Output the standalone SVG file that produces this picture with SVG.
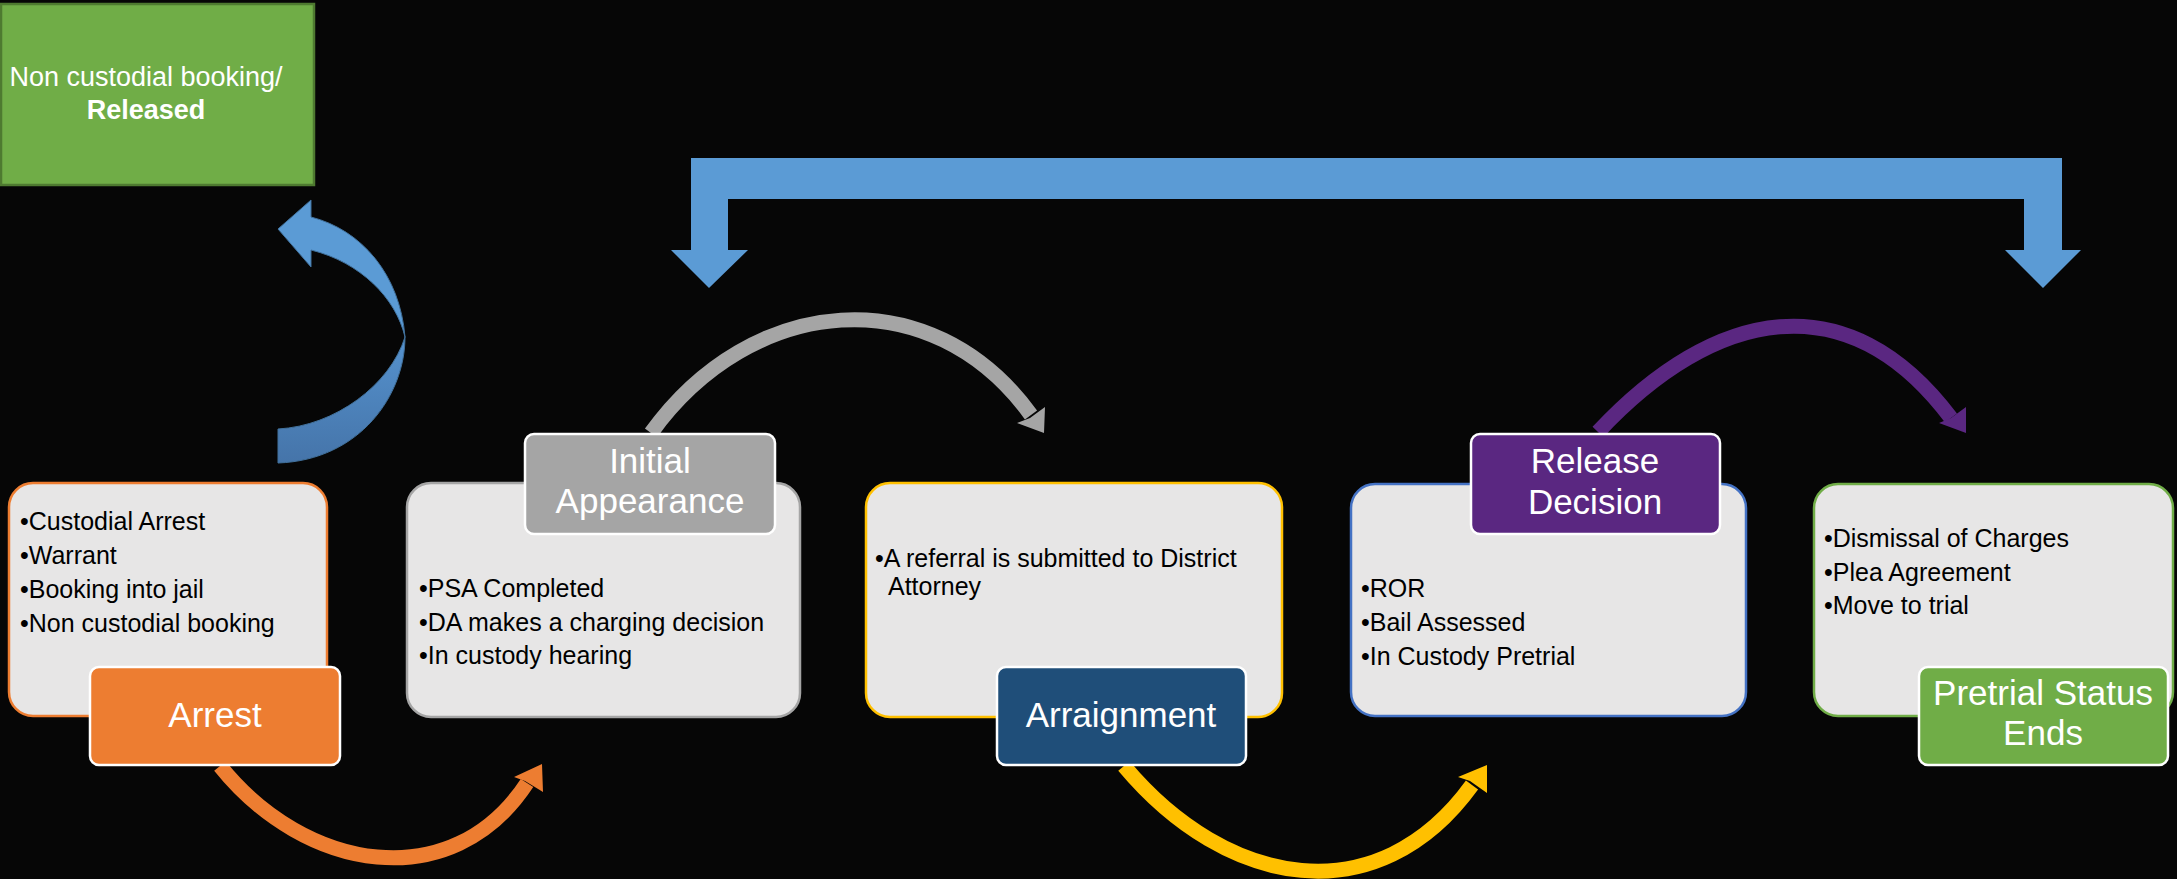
<svg xmlns="http://www.w3.org/2000/svg" width="2177" height="879" viewBox="0 0 2177 879">
<defs>
<style>
.box{fill:#E7E6E6;stroke-width:2.5}
.lbl{stroke:#FFFFFF;stroke-width:2.5}
.body{font-family:"Liberation Sans",Arial,sans-serif;font-size:25px;fill:#000000}
.lt{font-family:"Liberation Sans",Arial,sans-serif;font-size:35px;fill:#FFFFFF;text-anchor:middle}
.gt{font-family:"Liberation Sans",Arial,sans-serif;font-size:27px;fill:#FFFFFF;text-anchor:middle}
.arc{fill:none;stroke-width:15}
</style>
<linearGradient id="blueLow" x1="0" y1="0" x2="0" y2="1">
<stop offset="0" stop-color="#5592CE"/>
<stop offset="1" stop-color="#4574A9"/>
</linearGradient>
</defs>
<rect x="0" y="0" width="2177" height="879" fill="#060606"/>

<g id="released">
<rect x="1" y="4" width="313" height="181" fill="#70AD47" stroke="#4E7A30" stroke-width="2.5"/>
<text class="gt" x="146" y="86">Non custodial booking/</text>
<text class="gt" x="146" y="119" font-weight="bold">Released</text>
</g>

<g id="connectors">
<!-- blue curved arrow to Released -->
<path d="M311,217 C362,230 400,275 405,337 C396,298 360,262 311,250 L311,267 L278,229 L311,200 Z" fill="#5B9BD5" stroke="#41719C" stroke-width="1"/>
<path d="M405,337 C405,395 360,460 278,463 L278,429 C335,426 390,385 405,337 Z" fill="url(#blueLow)" stroke="#41719C" stroke-width="1"/>
<!-- blue bracket arrow -->
<polygon points="671,250 709,288 748,250 728,250 728,199 2024,199 2024,250 2005,250 2043,288 2081,250 2062,250 2062,158 691,158 691,250" fill="#5B9BD5"/>
<!-- orange -->
<path class="arc" d="M220,766 C305,872 452,897 527,783" stroke="#ED7D31"/>
<polygon points="542,764 514,777 525,781 543,792" fill="#ED7D31"/>
<!-- gray -->
<path class="arc" d="M651,433 C751,294 931,277 1031,415" stroke="#A5A5A5"/>
<polygon points="1044,433 1017,423 1030,418 1045,407" fill="#A5A5A5"/>
<!-- yellow -->
<path class="arc" d="M1124,766 C1227,889 1378,915 1472,785" stroke="#FFC000"/>
<polygon points="1487,765 1458,777 1470,781 1487,793" fill="#FFC000"/>
<!-- purple -->
<path class="arc" d="M1598,432 C1715,307 1848,281 1951,418" stroke="#5A2781"/>
<polygon points="1966,433 1939,423 1951,418 1966,407" fill="#5A2781"/>
</g>

<g id="arrest">
<rect class="box" x="9" y="483" width="318" height="233" rx="24" stroke="#ED7D31"/>
<text class="body" x="20" y="530">•Custodial Arrest</text>
<text class="body" x="20" y="564">•Warrant</text>
<text class="body" x="20" y="598">•Booking into jail</text>
<text class="body" x="20" y="632">•Non custodial booking</text>
<rect class="lbl" x="90" y="667" width="250" height="98" rx="9" fill="#ED7D31"/>
<text class="lt" x="215" y="727">Arrest</text>
</g>

<g id="initial-appearance">
<rect class="box" x="407" y="483" width="393" height="234" rx="24" stroke="#A5A5A5"/>
<text class="body" x="419" y="597">•PSA Completed</text>
<text class="body" x="419" y="631">•DA makes a charging decision</text>
<text class="body" x="419" y="664">•In custody hearing</text>
<rect class="lbl" x="525" y="434" width="250" height="100" rx="9" fill="#A5A5A5"/>
<text class="lt" x="650" y="473">Initial</text>
<text class="lt" x="650" y="513">Appearance</text>
</g>

<g id="arraignment">
<rect class="box" x="866" y="483" width="416" height="234" rx="24" stroke="#FFC000"/>
<text class="body" x="875" y="567">•A referral is submitted to District</text>
<text class="body" x="888" y="595">Attorney</text>
<rect class="lbl" x="997" y="667" width="249" height="98" rx="9" fill="#1F4E79"/>
<text class="lt" x="1121" y="727">Arraignment</text>
</g>

<g id="release-decision">
<rect class="box" x="1351" y="484" width="395" height="232" rx="24" stroke="#4472C4"/>
<text class="body" x="1361" y="597">•ROR</text>
<text class="body" x="1361" y="631">•Bail Assessed</text>
<text class="body" x="1361" y="665">•In Custody Pretrial</text>
<rect class="lbl" x="1471" y="434" width="249" height="100" rx="9" fill="#5A2781"/>
<text class="lt" x="1595" y="473">Release</text>
<text class="lt" x="1595" y="514">Decision</text>
</g>

<g id="pretrial-status-ends">
<rect class="box" x="1814" y="484" width="359" height="232" rx="24" stroke="#70AD47"/>
<text class="body" x="1824" y="547">•Dismissal of Charges</text>
<text class="body" x="1824" y="581">•Plea Agreement</text>
<text class="body" x="1824" y="614">•Move to trial</text>
<rect class="lbl" x="1919" y="667" width="249" height="98" rx="9" fill="#70AD47"/>
<text class="lt" x="2043" y="705">Pretrial Status</text>
<text class="lt" x="2043" y="745">Ends</text>
</g>
</svg>
